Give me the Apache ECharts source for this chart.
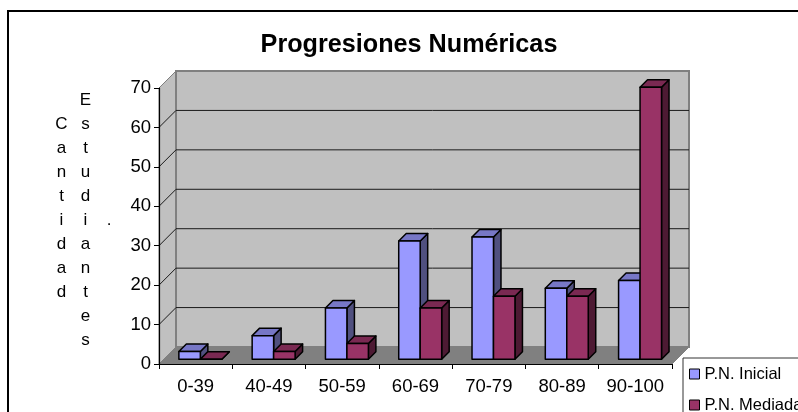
<!DOCTYPE html>
<html><head><meta charset="utf-8">
<style>html,body{margin:0;padding:0;background:#fff;overflow:hidden}#c{width:798px;height:412px}</style>
<script src="https://cdn.jsdelivr.net/npm/echarts@6/dist/echarts.min.js"></script>
</head><body><div id="c"></div>
<script>
const chartTitle = 'Progresiones Numéricas';
const categories = ['0-39','40-49','50-59','60-69','70-79','80-89','90-100'];
const seriesNames = ['P.N. Inicial','P.N. Mediada'];
const inicial = [2,6,13,30,31,18,20];
const mediada = [0,2,4,13,16,16,69];
const yTicks = [0,10,20,30,40,50,60,70];
const yNameCols = ['Cantidad','Estudiantes','.'];

const FONT = '"Liberation Sans", Arial, sans-serif';
const DEPTH = 17, BAR_FRONT = 4.7, BAR_DEPTH = 7.5;
const palette = [
  {front:'#9999FF', top:'#7777C6', side:'#50507F'},
  {front:'#993366', top:'#7A2952', side:'#4D1A33'}
];

function wallItem(params, api){
  const v = api.value(0);
  const band = api.size([1,0])[0];
  const x0 = api.coord([0,0])[0]-band/2;
  const x1 = api.coord([categories.length-1,0])[0]+band/2;
  const y = api.coord([0,v])[1];
  const yB = api.coord([0,0])[1], yT = api.coord([0,yTicks[yTicks.length-1]])[1];
  const children = [];
  const edge = {stroke:'#808080', lineWidth:2};
  if (v === 0) {
    children.push({type:'polygon',shape:{points:[[x0,yT],[x0+DEPTH,yT-DEPTH],[x0+DEPTH,yB-DEPTH],[x0,yB]]},style:{fill:'#C0C0C0',stroke:'#808080',lineWidth:1}});
    children.push({type:'polygon',shape:{points:[[x0+DEPTH,yT-DEPTH],[x1+DEPTH,yT-DEPTH],[x1+DEPTH,yB-DEPTH],[x0+DEPTH,yB-DEPTH]]},style:Object.assign({fill:'#C0C0C0'},edge)});
    children.push({type:'polygon',shape:{points:[[x0,yB],[x1,yB],[x1+DEPTH,yB-DEPTH],[x0+DEPTH,yB-DEPTH]]},style:{fill:'#808080',stroke:'#808080',lineWidth:1}});
  } else {
    const s = {stroke: v===yTicks[yTicks.length-1] ? '#808080' : '#1a1a1a', lineWidth:1};
    children.push({type:'line',shape:{x1:x0,y1:y,x2:x0+DEPTH,y2:y-DEPTH},style:s});
    if (v!==yTicks[yTicks.length-1]) children.push({type:'line',shape:{x1:x0+DEPTH,y1:y-DEPTH,x2:x1+DEPTH,y2:y-DEPTH},style:s});
  }
  return {type:'group',children};
}

function barItem(idx){
  return function(params, api){
    const band = api.size([1,0])[0];
    const w = band*0.293;
    const c = api.coord([api.value(0),0]);
    const t = api.coord([api.value(0),api.value(1)]);
    const l = c[0]-w+idx*w+BAR_FRONT, r = l+w;
    const b = c[1]-BAR_FRONT, tp = t[1]-BAR_FRONT;
    const d = BAR_DEPTH, col = palette[idx];
    const line = {stroke:'#000',lineWidth:1.5,lineJoin:'round'};
    return {type:'group',children:[
      {type:'polygon',shape:{points:[[r,b],[r+d,b-d],[r+d,tp-d],[r,tp]]},style:Object.assign({fill:col.side},line)},
      {type:'polygon',shape:{points:[[l,tp],[r,tp],[r+d,tp-d],[l+d,tp-d]]},style:Object.assign({fill:col.top},line)},
      {type:'rect',shape:{x:l,y:tp,width:w,height:b-tp},style:Object.assign({fill:col.front},line)}
    ]};
  };
}

const chart = echarts.init(document.getElementById('c'),null,{renderer:'canvas'});
chart.setOption({
  animation:false,
  backgroundColor:'#fff',
  textStyle:{fontFamily:FONT},
  title:{text:chartTitle,left:404,top:27.5,textAlign:'center',
    textStyle:{fontFamily:FONT,fontWeight:'bold',fontSize:25.2,color:'#000'}},
  grid:{left:159,right:126,top:88,bottom:48,containLabel:false},
  xAxis:{type:'category',data:categories,z:5,
    axisLine:{lineStyle:{color:'#000',width:1.2}},
    axisTick:{show:true,length:5,lineStyle:{color:'#000',width:1}},
    axisLabel:{fontFamily:FONT,fontSize:18.5,color:'#000',margin:13,interval:0},
    splitLine:{show:false}},
  yAxis:{type:'value',min:0,max:70,interval:10,z:5,
    axisLine:{show:true,lineStyle:{color:'#000',width:1.2}},
    axisTick:{show:true,length:5,lineStyle:{color:'#000',width:1}},
    axisLabel:{fontFamily:FONT,fontSize:18.5,color:'#000',margin:8},
    splitLine:{show:false}},
  legend:{orient:'vertical',left:683,top:358,width:200,height:120,
    padding:[7,40,40,6],itemGap:13,itemWidth:10,itemHeight:10,
    borderColor:'#333',borderWidth:1,backgroundColor:'#fff',
    selectedMode:false,
    textStyle:{fontFamily:FONT,fontSize:16.5,color:'#000',padding:[0,0,0,0],lineHeight:18},
    data:seriesNames.map((n,i)=>({name:n,icon:'rect',itemStyle:{color:palette[i].front,borderColor:'#000',borderWidth:1}}))},
  graphic:[
    {type:'polyline',silent:true,z:-1,shape:{points:[[8,420],[8,11],[805,11]]},style:{stroke:'#000',lineWidth:2,fill:null}},
    {type:'text',silent:true,style:{x:61.5,y:112.5,text:yNameCols[0].split('').join('\n'),font:'17px '+FONT,lineHeight:24,fill:'#000',align:'center',verticalAlign:'top'}},
    {type:'text',silent:true,style:{x:85.5,y:88.5,text:yNameCols[1].split('').join('\n'),font:'17px '+FONT,lineHeight:24,fill:'#000',align:'center',verticalAlign:'top'}},
    {type:'text',silent:true,style:{x:109,y:208,text:yNameCols[2],font:'17px '+FONT,lineHeight:24,fill:'#000',align:'center',verticalAlign:'top'}}
  ],
  series:[
    {type:'custom',name:'_walls',silent:true,z:1,renderItem:wallItem,data:yTicks.map(v=>[v]),encode:{y:0}},
    {type:'custom',name:seriesNames[0],silent:true,z:2,itemStyle:{color:palette[0].front},renderItem:barItem(0),
      data:inicial.map((v,i)=>[i,v]),encode:{x:0,y:1}},
    {type:'custom',name:seriesNames[1],silent:true,z:3,itemStyle:{color:palette[1].front},renderItem:barItem(1),
      data:mediada.map((v,i)=>[i,v]),encode:{x:0,y:1}}
  ]
});
</script></body></html>
